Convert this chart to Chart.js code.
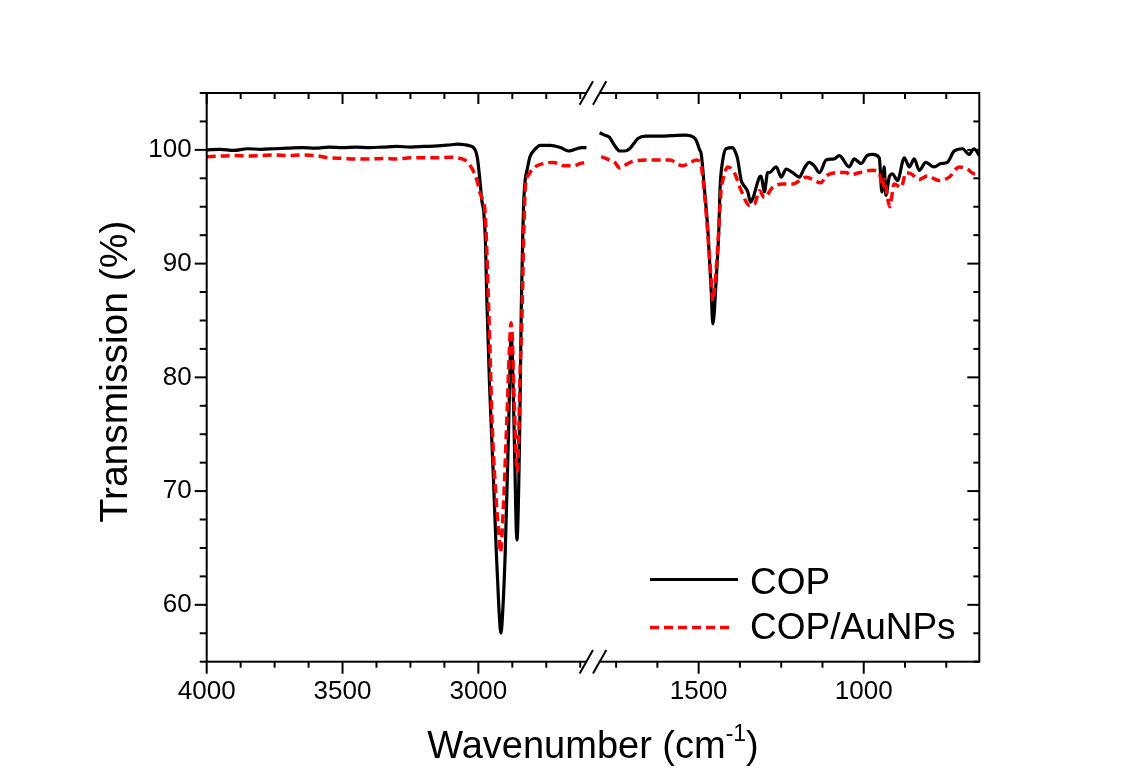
<!DOCTYPE html>
<html>
<head>
<meta charset="utf-8">
<title>FTIR COP vs COP/AuNPs</title>
<script src="https://cdn.jsdelivr.net/npm/chart.js@4"></script>
<style>
  body { margin: 0; background: #fff; }
  #wrap { width: 1126px; height: 784px; }
</style>
</head>
<body>
<div id="wrap"><canvas id="ftirChart" width="1126" height="784"></canvas></div>
<script>
// Tick labels
const yTicks = [60, 70, 80, 90, 100];
const xLeftTicks = [4000, 3500, 3000];
const xRightTicks = [1500, 1000];
const seriesNames = ['COP', 'COP/AuNPs'];

// COP, high wavenumber side (cm-1 / %T)
const copLeftWn = [4000, 3950, 3900, 3850, 3800, 3750, 3700, 3650, 3600, 3550, 3500, 3450, 3400, 3350, 3300, 3250,
  3200, 3150, 3100, 3075, 3050, 3030, 3018, 3010, 3003, 2995, 2987, 2980, 2974, 2969, 2959, 2946, 2934, 2925,
  2917, 2909, 2901, 2889, 2883, 2879, 2875, 2868, 2858, 2848, 2842, 2836, 2833, 2827, 2821, 2810, 2797, 2772,
  2735, 2698, 2668, 2650, 2637, 2620, 2602];
const copLeftT = [100.0, 100.05, 99.95, 100.1, 100.05, 100.1, 100.15, 100.2, 100.15, 100.25, 100.2, 100.25, 100.2, 100.25, 100.3, 100.25,
  100.3, 100.35, 100.45, 100.5, 100.45, 100.35, 100.2, 99.9, 99.2, 97.5, 95.5, 94.5, 92.0, 87.0, 79.4, 72.0, 64.7, 60.0,
  57.5, 60.0, 64.7, 75.0, 81.5, 83.8, 82.0, 75.0, 65.7, 75.0, 86.1, 93.0, 95.5, 97.5, 98.2, 99.4, 99.9, 100.4,
  100.4, 100.2, 99.9, 100.0, 100.1, 100.2, 100.2];

// COP, fingerprint side
const copRightWn = [1800, 1785, 1770, 1755, 1739, 1725, 1709, 1695, 1684, 1660, 1618, 1580, 1538, 1515, 1507, 1497,
  1492, 1482, 1472, 1462, 1457, 1447, 1439, 1435, 1427, 1417, 1397, 1386, 1382, 1371, 1366, 1351, 1343, 1335,
  1326, 1316, 1311, 1301, 1291, 1286, 1265, 1250, 1235, 1215, 1195, 1180, 1165, 1150, 1134, 1114, 1090, 1074,
  1044, 1029, 1008, 990, 973, 953, 945, 938, 933, 923, 913, 898, 877, 862, 847, 832, 812, 787, 766, 747, 726,
  701, 681, 666, 650];
const copRightT = [101.5, 101.3, 101.1, 100.4, 99.9, 99.9, 100.1, 100.6, 101.0, 101.2, 101.2, 101.25, 101.3, 101.1, 100.8, 100.0,
  99.6, 96.4, 92.9, 87.6, 84.7, 88.5, 92.9, 96.7, 99.1, 100.1, 100.2, 99.6, 99.2, 97.3, 97.0, 96.3, 95.4, 95.8,
  96.7, 97.6, 97.7, 96.3, 98.0, 98.0, 98.5, 97.6, 98.3, 98.0, 97.6, 98.4, 98.9, 98.6, 98.0, 99.1, 99.2, 99.5,
  98.5, 99.2, 98.8, 99.5, 99.6, 99.3, 96.3, 98.5, 96.0, 97.6, 97.9, 97.3, 99.3, 98.5, 99.2, 98.2, 98.9, 98.5, 98.8, 98.9, 99.9,
  100.1, 99.6, 100.1, 99.5];

// COP/AuNPs, high wavenumber side
const auLeftWn = [4000, 3950, 3900, 3850, 3800, 3750, 3700, 3650, 3600, 3550, 3500, 3450, 3400, 3350, 3300, 3250,
  3200, 3150, 3100, 3079, 3050, 3036, 3020, 3005, 2995, 2987, 2975, 2962, 2955, 2950, 2938, 2922, 2919, 2907,
  2895, 2886, 2880, 2875, 2870, 2856, 2846, 2839, 2833, 2827, 2815, 2797, 2760, 2723, 2686, 2649, 2625, 2602];
const auLeftT = [99.4, 99.45, 99.5, 99.45, 99.5, 99.55, 99.5, 99.55, 99.5, 99.3, 99.25, 99.2, 99.2, 99.25, 99.2, 99.3,
  99.3, 99.3, 99.35, 99.3, 99.1, 98.8, 98.2, 97.3, 96.3, 95.8, 94.4, 86.1, 80.5, 76.4, 70.5, 65.5, 64.6, 69.1,
  76.4, 82.3, 84.8, 83.5, 79.4, 71.7, 80.7, 85.8, 92.5, 96.7, 97.8, 98.4, 98.8, 98.9, 98.6, 98.6, 98.8, 98.9];

// COP/AuNPs, fingerprint side
const auRightWn = [1795, 1785, 1770, 1754, 1739, 1720, 1699, 1660, 1628, 1588, 1548, 1525, 1507, 1492, 1482, 1472,
  1462, 1457, 1447, 1439, 1432, 1427, 1412, 1392, 1371, 1346, 1331, 1316, 1301, 1276, 1245, 1215, 1175, 1130,
  1114, 1074, 1054, 1039, 1024, 1000, 973, 953, 943, 938, 928, 921, 908, 887, 872, 857, 832, 807, 772, 741,
  711, 686, 666, 650];
const auRightT = [99.4, 99.3, 99.1, 98.9, 98.4, 98.7, 99.0, 99.1, 99.1, 99.1, 98.6, 98.9, 99.1, 98.5, 96.0, 92.5,
  88.5, 86.7, 89.5, 93.0, 96.5, 97.3, 98.5, 98.0, 96.4, 95.1, 95.2, 96.4, 95.8, 96.7, 97.0, 97.0, 97.6, 97.1,
  97.7, 98.0, 98.0, 97.8, 97.9, 98.1, 98.2, 98.0, 96.7, 97.4, 95.8, 95.0, 97.0, 96.7, 98.0, 97.9, 97.4, 97.7, 97.3, 97.6,
  98.5, 98.3, 97.9, 98.0];

const FONT = '"Liberation Sans", Arial, sans-serif';
Chart.defaults.font.family = FONT;
Chart.defaults.color = '#000';

function toPoints(wn, t) {
  return wn.map((w, i) => ({ x: w, y: t[i] }));
}

const copStyle = { borderColor: '#000', borderWidth: 3.2, borderDash: [] };
const auStyle = { borderColor: '#ff0000', borderWidth: 3.5, borderDash: [9, 5] };

// axis frame, ticks, axis break, titles and legend drawn on top
const framePlugin = {
  id: 'frame',
  afterDraw(chart) {
    const { ctx, chartArea: a, scales } = chart;
    const ys = scales.y, xl = scales.x1, xr = scales.x2;
    ctx.save();
    ctx.strokeStyle = '#000';
    ctx.lineWidth = 2;
    ctx.lineCap = 'butt';
    ctx.strokeRect(a.left, a.top, a.right - a.left, a.bottom - a.top);

    const seg = (x0, y0, x1, y1) => { ctx.beginPath(); ctx.moveTo(x0, y0); ctx.lineTo(x1, y1); ctx.stroke(); };

    // y ticks: outward on the left, inward on the right
    for (let v = ys.min; v <= ys.max + 0.01; v += 2.5) {
      const py = ys.getPixelForValue(v);
      const major = v % 10 === 0;
      seg(a.left - (major ? 12 : 7), py, a.left, py);
      seg(a.right, py, a.right - (major ? 12 : 6), py);
    }
    // x ticks: outward on the bottom, inward on the top
    const xTicks = (scale, start) => {
      for (let v = start; v >= scale.min; v -= 125) {
        const px = scale.getPixelForValue(v);
        const major = v % 500 === 0;
        seg(px, a.bottom, px, a.bottom + (major ? 12 : 6));
        seg(px, a.top, px, a.top + (major ? 11 : 6));
      }
    };
    xTicks(xl, 4000);
    xTicks(xr, 1750);

    // axis break marks
    const bx = xl.right;
    [a.top, a.bottom].forEach(ay => {
      ctx.fillStyle = '#fff';
      ctx.fillRect(bx - 6.5, ay - 2, 13, 4);
      seg(bx - 13.3, ay + 11.7, bx, ay - 11.7);
      seg(bx, ay + 11.7, bx + 13.3, ay - 11.7);
    });

    ctx.fillStyle = '#000';
    // y title
    ctx.save();
    ctx.translate(116, 371.5);
    ctx.rotate(-Math.PI / 2);
    ctx.font = '39px ' + FONT;
    ctx.textAlign = 'center';
    ctx.textBaseline = 'middle';
    ctx.fillText('Transmission (%)', 0, 0);
    ctx.restore();

    // x title with superscript
    const big = '38px ' + FONT, small = '23px ' + FONT;
    ctx.textBaseline = 'alphabetic';
    ctx.textAlign = 'left';
    ctx.font = big;
    const w1 = ctx.measureText('Wavenumber (cm').width;
    const w3 = ctx.measureText(')').width;
    ctx.font = small;
    const w2 = ctx.measureText('-1').width;
    let tx = (a.left + a.right) / 2 - (w1 + w2 + w3) / 2;
    const base = 758;
    ctx.font = big;
    ctx.fillText('Wavenumber (cm', tx, base);
    tx += w1;
    ctx.font = small;
    ctx.fillText('-1', tx, base - 17);
    tx += w2;
    ctx.font = big;
    ctx.fillText(')', tx, base);

    // legend
    const legendRows = [
      { y: 579.5, base: 593.5, style: copStyle, end: 738 },
      { y: 627.5, base: 638.5, style: auStyle, end: 733 }
    ];
    legendRows.forEach((row, i) => {
      ctx.strokeStyle = row.style.borderColor;
      ctx.lineWidth = row.style.borderWidth;
      ctx.setLineDash(row.style.borderDash);
      seg(650, row.y, row.end, row.y);
      ctx.setLineDash([]);
      ctx.font = '37px ' + FONT;
      ctx.fillText(seriesNames[i], 750, row.base);
    });
    ctx.restore();
  }
};

const xAxis = (min, max, labels) => ({
  type: 'linear',
  position: 'bottom',
  stack: 'wn',
  stackWeight: 1,
  reverse: true,
  min: min,
  max: max,
  grid: { display: false, drawTicks: false },
  border: { display: false },
  ticks: { padding: 15, autoSkip: false, maxRotation: 0, font: { size: 26 }, callback: v => String(v) },
  afterBuildTicks: scale => { scale.ticks = labels.map(v => ({ value: v })); },
  afterFit: scale => { scale.height = 122.3; }
});

const ctx = document.getElementById('ftirChart').getContext('2d');
const ftirChart = new Chart(ctx, {
  type: 'line',
  data: {
    datasets: [
      { label: seriesNames[1], data: toPoints(auLeftWn, auLeftT), xAxisID: 'x1', ...auStyle },
      { label: seriesNames[1], data: toPoints(auRightWn, auRightT), xAxisID: 'x2', ...auStyle },
      { label: seriesNames[0], data: toPoints(copLeftWn, copLeftT), xAxisID: 'x1', ...copStyle },
      { label: seriesNames[0], data: toPoints(copRightWn, copRightT), xAxisID: 'x2', ...copStyle }
    ]
  },
  options: {
    responsive: false,
    animation: false,
    parsing: false,
    layout: { padding: { top: 93, right: 146.7, bottom: 0, left: 0 } },
    elements: {
      point: { radius: 0 },
      line: { borderJoinStyle: 'round', cubicInterpolationMode: 'monotone', fill: false }
    },
    plugins: { legend: { display: false }, tooltip: { enabled: false } },
    scales: {
      x1: xAxis(2578, 4000, xLeftTicks),
      x2: xAxis(650, 1820, xRightTicks),
      y: {
        type: 'linear',
        position: 'left',
        min: 55,
        max: 105,
        grid: { display: false, drawTicks: false },
        border: { display: false },
        ticks: { padding: 15, font: { size: 26 }, callback: v => String(v) },
        afterBuildTicks: scale => { scale.ticks = yTicks.map(v => ({ value: v })); },
        afterFit: scale => { scale.width = 206.7; }
      }
    }
  },
  plugins: [framePlugin]
});
</script>
</body>
</html>
